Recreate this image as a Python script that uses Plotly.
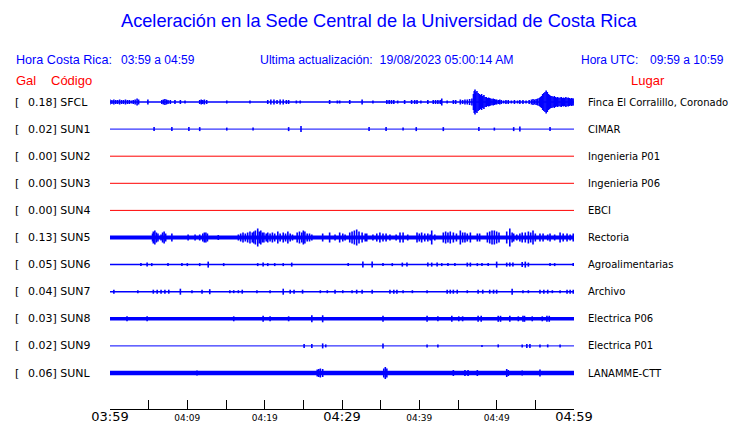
import plotly.graph_objects as go

# ---------------- data ----------------
STATIONS = ["SFCL", "SUN1", "SUN2", "SUN3", "SUN4", "SUN5", "SUN6", "SUN7", "SUN8", "SUN9", "SUNL"]
GAL = ["0.18", "0.02", "0.00", "0.00", "0.00", "0.13", "0.05", "0.04", "0.03", "0.02", "0.06"]
PLACES = ["Finca El Corralillo, Coronado", "CIMAR", "Ingenieria P01", "Ingenieria P06", "EBCI",
          "Rectoria", "Agroalimentarias", "Archivo", "Electrica P06", "Electrica P01", "LANAMME-CTT"]
TICK_MIN = [0, 5, 10, 15, 20, 25, 30, 35, 40, 45, 50, 55, 60]
TICK_LABELS = ["03:59", "", "04:09", "", "04:19", "", "04:29", "", "04:39", "", "04:49", "", "04:59"]
BIG_TICKS = ["03:59", "04:29", "04:59"]

# envelope events per station: (minute after 03:59, half amplitude)
SFCL_EV = [
    (0.0, 2.5), (0.25, 2), (0.5, 2.5), (0.75, 2), (1.0, 2), (1.25, 2.5), (1.5, 2), (1.75, 2), (2.0, 2.5),
    (2.25, 2), (2.5, 2), (2.75, 1.5), (3.0, 2), (3.25, 2.5), (3.5, 3.5), (3.7, 2.5),
    (4.9, 2.5), (6.7, 2), (6.9, 2.5), (7.1, 3), (7.3, 2.5), (7.5, 2), (7.8, 2), (8.4, 2), (9.1, 2), (9.7, 1.5),
    (11.6, 2), (11.8, 2.5), (12.0, 2), (12.2, 2.5), (12.5, 2), (15.1, 1.5), (18.1, 1.5),
    (20.4, 2), (20.8, 2.5), (21.2, 2.5), (21.6, 2), (22.0, 2.5), (22.4, 2.5), (22.8, 2), (23.1, 2), (24.1, 1.5),
    (24.6, 1.5), (28.4, 2), (29.4, 1.5), (29.7, 1.5), (31.0, 2), (32.6, 2.5), (34.0, 1.5),
    (35.8, 2), (36.1, 2), (36.4, 2), (36.7, 2), (37.2, 1.5), (38.1, 2), (39.0, 2), (39.4, 2), (39.7, 2),
    (40.2, 1.5), (41.1, 2), (41.8, 2), (42.1, 2), (42.4, 2), (42.7, 2), (42.9, 3.5), (43.6, 1.5), (44.4, 2),
    (44.7, 2), (45.3, 2.5), (45.6, 2), (45.9, 2.5), (46.2, 2.5), (46.5, 3), (46.8, 3.5),
    (47.0, 8), (47.1, 11), (47.2, 12.5), (47.3, 10), (47.45, 11), (47.6, 9), (47.75, 8), (47.9, 7), (48.05, 8),
    (48.2, 6), (48.35, 7), (48.5, 5), (48.65, 5), (48.8, 4), (48.95, 4.5), (49.1, 4), (49.25, 3.5), (49.4, 3),
    (49.55, 3.5), (49.7, 3), (49.85, 2.5), (50.0, 2.5), (50.2, 2), (50.4, 2.5), (50.6, 2), (50.9, 1.5),
    (51.2, 2), (51.5, 2), (51.9, 1.5), (52.3, 2), (52.7, 1.5), (53.0, 2), (53.4, 2), (53.8, 1.5), (54.2, 2),
    (54.5, 2.5), (54.7, 3), (54.9, 2.5), (55.1, 3), (55.3, 3.5), (55.5, 4),
    (55.65, 5), (55.8, 6), (55.95, 8), (56.1, 9), (56.25, 10), (56.4, 11.5), (56.55, 10), (56.7, 8), (56.85, 7),
    (57.0, 6), (57.15, 6), (57.3, 5), (57.45, 6), (57.6, 5), (57.75, 4.5), (57.9, 5), (58.05, 4), (58.2, 4.5),
    (58.35, 5), (58.5, 4), (58.65, 4.5), (58.8, 4), (58.95, 5), (59.1, 4), (59.25, 4.5), (59.4, 4),
    (59.55, 3.5), (59.7, 4), (59.85, 3.5), (60.0, 3.5)]
SUN1_EV = [(5.7, 2), (8.0, 2), (10.2, 2), (11.6, 2), (15.1, 1.5), (18.5, 1.5), (23.1, 2), (24.7, 3), (33.5, 2),
           (35.7, 2), (37.9, 1.5), (39.6, 2), (43.1, 2), (47.7, 2), (49.7, 1.5), (52.2, 2), (53.0, 2.5), (56.9, 2)]
SUN2_EV = []
SUN3_EV = []
SUN4_EV = []
SUN5_EV = [
    (5.5, 4), (5.6, 6), (5.8, 7), (6.0, 5), (6.2, 4), (6.6, 3), (6.8, 5), (7.0, 6), (7.2, 4), (8.0, 4),
    (10.1, 3), (11.0, 3), (11.6, 3), (12.0, 4), (12.2, 5), (12.4, 5), (12.6, 4), (14.0, 2.5),
    (16.6, 3), (16.9, 4), (17.2, 5), (17.5, 4), (17.8, 5), (18.1, 6), (18.4, 5), (18.6, 6), (18.8, 7),
    (19.1, 9), (19.3, 6), (19.5, 7), (19.7, 5), (19.9, 5), (20.2, 4), (20.4, 5), (20.7, 4), (21.0, 5),
    (21.3, 4), (21.7, 6), (22.0, 4), (22.4, 5), (22.7, 4), (23.0, 6), (23.3, 4), (23.6, 3), (24.2, 5),
    (24.5, 6), (24.8, 5), (25.0, 7), (25.2, 6), (25.5, 4), (25.8, 4), (26.1, 3), (27.5, 4), (28.4, 5),
    (29.1, 3), (29.7, 5), (30.1, 4), (30.4, 3), (31.0, 5), (31.3, 6), (31.6, 7), (31.9, 8), (32.2, 6),
    (32.6, 5), (33.0, 4), (33.2, 4), (34.0, 3), (34.5, 4), (34.9, 5), (35.3, 4), (35.7, 4), (36.2, 3),
    (37.0, 3), (37.5, 5), (37.9, 5), (38.5, 3), (39.7, 5), (40.0, 4), (40.3, 5), (40.7, 4), (41.1, 4),
    (41.4, 3), (41.6, 7), (42.0, 3), (43.1, 5), (43.4, 6), (43.7, 5), (44.0, 6), (44.4, 5), (44.8, 4),
    (45.3, 7), (45.6, 5), (45.9, 5), (46.2, 4), (46.6, 5), (47.5, 4), (47.8, 4), (48.8, 5), (49.1, 6),
    (49.4, 7), (49.7, 7), (50.0, 6), (50.3, 5), (51.3, 6), (51.7, 9), (52.0, 5), (52.2, 4), (52.6, 3),
    (53.0, 4), (53.3, 5), (53.7, 5), (54.1, 6), (54.4, 5), (54.7, 7), (55.0, 4), (55.6, 4), (56.0, 4),
    (56.6, 3), (56.9, 4), (57.5, 3), (58.2, 5), (58.6, 4), (59.1, 4), (59.5, 3), (59.9, 4)]
SUN6_EV = [(4.0, 1.5), (4.8, 2), (5.4, 1.5), (7.5, 1.5), (9.3, 1.5), (10.0, 1.5), (11.6, 1.5), (12.7, 3),
           (14.7, 1.5), (19.1, 1.5), (19.8, 2), (20.4, 1.5), (21.3, 1.5), (22.4, 1.5), (23.5, 2), (30.8, 1.5),
           (32.7, 3), (33.9, 3), (35.3, 1.5), (36.5, 1.5), (37.8, 2), (38.4, 2), (41.1, 2), (41.6, 2), (42.3, 2),
           (42.9, 1.5), (43.7, 1.5), (44.6, 1.5), (46.2, 2), (46.6, 2), (47.5, 1.5), (48.1, 1.5), (48.9, 1.5),
           (50.0, 3), (51.3, 2), (51.7, 2), (52.1, 2), (53.3, 2.5), (53.7, 3), (54.1, 2), (56.9, 1.5),
           (57.5, 1.5), (59.9, 1.5)]
SUN7_EV = [(0.5, 2), (3.6, 1.5), (5.6, 2), (6.1, 2), (6.6, 2), (7.1, 2), (7.6, 2), (9.1, 3), (10.6, 1.5),
           (11.9, 2), (12.9, 2.5), (15.5, 1.5), (16.0, 1.5), (16.6, 1.5), (17.1, 2), (19.0, 1.5), (20.7, 1.5),
           (22.4, 3), (23.3, 2), (23.8, 2), (24.9, 2), (27.2, 1.5), (28.1, 1.5), (29.1, 2), (30.1, 1.5),
           (31.3, 1.5), (31.9, 2), (32.6, 2), (33.9, 2), (36.2, 2), (36.7, 2), (37.1, 2), (37.9, 1.5),
           (39.1, 1.5), (41.0, 1.5), (43.6, 2), (44.0, 2), (44.4, 2), (44.9, 2), (46.2, 1.5), (47.6, 2),
           (48.2, 2), (49.1, 2), (49.6, 2), (50.0, 2), (52.0, 3), (53.4, 1.5), (54.1, 1.5), (55.6, 2),
           (56.1, 2), (56.6, 2), (57.2, 1.5), (58.2, 1.5), (59.1, 2), (59.5, 2), (59.9, 2)]
SUN8_EV = [(2.2, 2.5), (4.8, 2.5), (16.0, 2.5), (19.8, 3), (20.7, 2.5), (23.1, 2.5), (26.1, 3.5), (27.5, 3.5),
           (35.3, 3), (41.0, 3), (42.4, 2.5), (44.2, 3), (45.1, 2.5), (45.6, 2.5), (47.6, 3), (48.0, 3),
           (50.2, 3), (50.5, 3), (51.7, 3), (52.8, 2.5), (53.4, 3), (53.6, 3), (54.6, 2.5), (55.9, 2.5),
           (56.5, 3), (56.8, 3)]
SUN9_EV = [(25.1, 2), (26.1, 2), (27.5, 2.5), (27.9, 1.5), (35.3, 2.5), (41.0, 1.5), (42.4, 1.5), (48.1, 1),
           (50.2, 1.5), (53.3, 1.5), (53.9, 2), (54.3, 2), (55.6, 1.5), (56.6, 1.5), (58.2, 1.5)]
SUNL_EV = [(11.25, 2.5), (26.8, 3.5), (27.0, 4), (27.2, 4.5), (27.5, 4), (35.4, 4.5), (35.6, 6), (35.8, 4.5),
           (44.4, 3), (45.9, 3), (46.3, 3), (47.5, 3), (51.3, 4), (51.5, 3), (53.3, 2.5), (55.6, 3.5)]

EVENTS = [SFCL_EV, SUN1_EV, SUN2_EV, SUN3_EV, SUN4_EV, SUN5_EV, SUN6_EV, SUN7_EV, SUN8_EV, SUN9_EV, SUNL_EV]

# ---------------- style ----------------
W, H = 740, 423
L, R, T, B = 110, 166, 88, 14
PW, PH = W - L - R, H - T - B
ROW0_PX, ROW_PX = 102, 27.1
BLUE, RED = "#0000ff", "#ff0000"
BASE_W = [1.5, 1, 1, 1, 1, 4, 1.5, 1.5, 3.5, 1, 4.5]
LINE_COL = [BLUE, BLUE, RED, RED, RED, BLUE, BLUE, BLUE, BLUE, BLUE, BLUE]


def px_x(px):
    return (px - L) / PW


def px_y(py):
    return (H - B - py) / PH


fig = go.Figure()
for i, st in enumerate(STATIONS):
    fig.add_trace(go.Scatter(x=[0, 60], y=[i, i], mode="lines",
                             line=dict(color=LINE_COL[i], width=BASE_W[i]),
                             hoverinfo="skip", showlegend=False))
    ev = EVENTS[i]
    if ev:
        xs, ys = [], []
        for t, a in ev:
            d = a / ROW_PX
            xs += [t, t, None]
            ys += [i - d, i + d, None]
        fig.add_trace(go.Scatter(x=xs, y=ys, mode="lines",
                                 line=dict(color=LINE_COL[i], width=1.6),
                                 hoverinfo="skip", showlegend=False))

ann = []


def text(s, px, py, size, color, family, anchor="left"):
    ann.append(dict(text=s, x=px_x(px), y=px_y(py), xref="paper", yref="paper",
                    xanchor=anchor, yanchor="middle", showarrow=False, borderpad=0,
                    font=dict(size=size, color=color, family=family)))


SANS = "Liberation Sans, Arial, sans-serif"
DJV = "DejaVu Sans, sans-serif"
text("Aceleración en la Sede Central de la Universidad de Costa Rica", 379, 21, 18.2, BLUE, SANS, "center")
text("Hora Costa Rica:", 15, 60, 12.6, BLUE, SANS)
text("03:59 a 04:59", 120, 60, 12, BLUE, SANS)
text("Ultima actualización:  19/08/2023 05:00:14 AM", 259, 60, 12.3, BLUE, SANS)
text("Hora UTC:", 580, 60, 12, BLUE, SANS)
text("09:59 a 10:59", 725, 60, 12, BLUE, SANS, "right")
text("Gal", 15, 80, 13, RED, SANS)
text("Código", 50, 80, 13, RED, SANS)
text("Lugar", 630, 80, 13, RED, SANS)

for i, st in enumerate(STATIONS):
    py = ROW0_PX + ROW_PX * i
    text("[", 14, py, 11, "black", DJV)
    text(f"{GAL[i]}] {st}", 27, py, 11, "black", DJV)
    text(PLACES[i], 587, py, 10, "black", DJV)
fig.update_layout(annotations=ann)

ticktext = [lab if (lab in BIG_TICKS or lab == "") else f'<span style="font-size:9px">{lab}</span>'
            for lab in TICK_LABELS]

top_val = (T - ROW0_PX) / ROW_PX
bot_val = (H - B - ROW0_PX) / ROW_PX
fig.update_layout(
    width=W, height=H, margin=dict(l=L, r=R, t=T, b=B, pad=0, autoexpand=False),
    paper_bgcolor="white", plot_bgcolor="white",
    xaxis=dict(range=[0, 60], showgrid=False, zeroline=False, showline=True, linecolor="black",
               linewidth=1, ticks="inside", ticklen=9, tickcolor="black", tickwidth=1,
               tickvals=TICK_MIN, ticktext=ticktext, tickangle=0, automargin=False,
               ticklabelstandoff=-5,
               tickfont=dict(size=13, color="black", family=DJV)),
    yaxis=dict(range=[bot_val, top_val], visible=False, showgrid=False, zeroline=False, automargin=False),
)
fig.write_html("out.html", config={"displayModeBar": False},
               post_script="document.body.style.margin='0';document.body.style.overflow='hidden';")
